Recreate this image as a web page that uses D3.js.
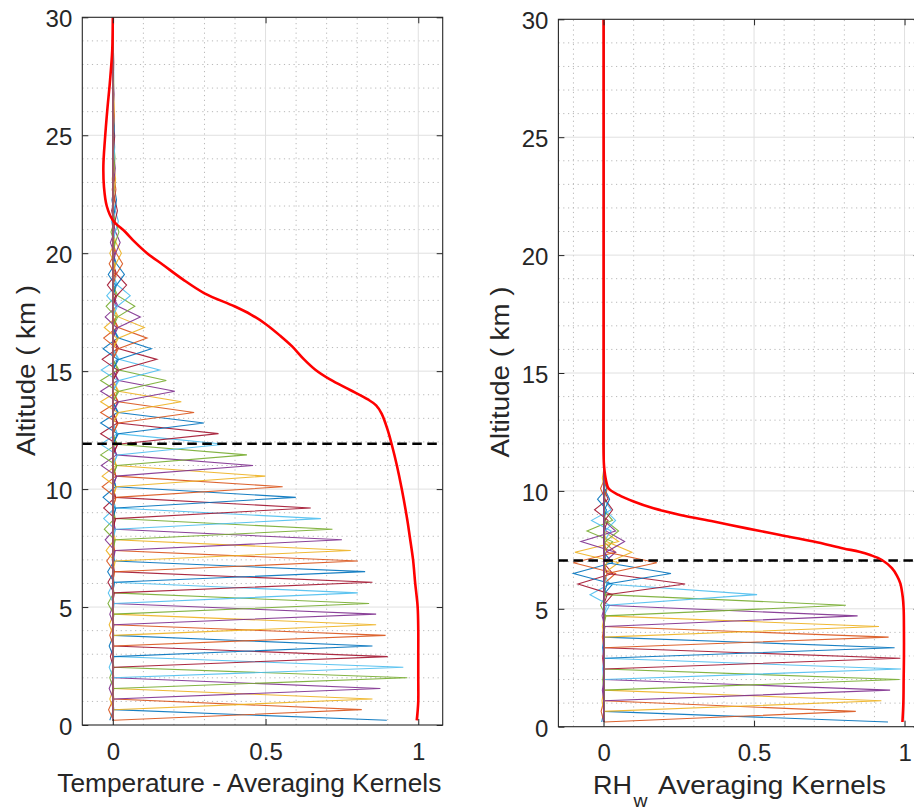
<!DOCTYPE html>
<html><head><meta charset="utf-8">
<script src="https://cdn.jsdelivr.net/npm/d3@7"></script>
<style>body{margin:0;background:#fff} svg{display:block}</style>
</head><body>
<script>
// ---------------- DATA ----------------
// retrieval altitude levels (km)
const levels = [0.2,0.65,1.1,1.55,2.0,2.45,2.9,3.35,3.8,4.25,4.7,5.15,5.6,6.05,6.5,6.95,7.4,7.85,8.3,8.75,
  9.2,9.65,10.1,10.55,11.0,11.45,11.9,12.35,12.8,13.25,13.7,14.15,14.6,15.05,15.5,15.95,16.4,16.85,17.3,17.75,
  18.2,18.65,19.1,19.55,20.0,20.45,20.9,21.35,21.8,22.25,22.7,23.15,23.6,24.05,24.5,24.95,25.4,25.85,26.3,26.75,
  27.2,27.65,28.1,28.55,29.0,29.45,29.9];

// Temperature averaging kernels: peak value at own level, value at neighbouring levels
const peakT = [0.897,0.815,0.85,0.876,0.964,0.951,0.90,0.85,0.893,0.862,
  0.862,0.839,0.802,0.85,0.826,0.802,0.779,0.75,0.719,0.681,
  0.648,0.599,0.556,0.499,0.459,0.439,0.365,0.346,0.298,0.266,
  0.224,0.203,0.175,0.153,0.144,0.126,0.112,0.103,0.09,0.072,
  0.057,0.045,0.038,0.032,0.028,0.024,0.02,0.018,0.015,0.012,
  0.01,0.009,0.008,0.007,0.006,0.006,0.005,0.005,0.004,0.004,
  0.003,0.003,0.003,0.002,0.002,0.002,0.001];
const sideT = [0.003,0.003,0.003,0.003,0.003,0.003,0.003,0.003,0.003,0.003,
  0.003,0.003,0.004,0.004,0.005,0.005,0.008,0.008,0.008,0.009,
  0.009,0.010,0.010,0.011,0.012,0.013,0.015,0.016,0.018,0.018,
  0.019,0.019,0.020,0.020,0.020,0.019,0.018,0.018,0.017,0.016,
  0.015,0.013,0.012,0.011,0.010,0.009,0.008,0.008,0.007,0.006,
  0.005,0.005,0.004,0.004,0.004,0.003,0.003,0.003,0.003,0.002,
  0.002,0.002,0.002,0.002,0.001,0.001,0.001];
// second family of lines (negative lobes near x = 0)
const dipT = [-0.010,-0.014,-0.010,-0.012,-0.010,-0.012,-0.008,-0.012,-0.010,-0.012,
  -0.010,-0.016,-0.015,-0.016,-0.017,-0.020,-0.022,-0.025,-0.028,-0.030,
  -0.030,-0.032,-0.035,-0.035,-0.038,-0.040,-0.040,-0.040,-0.040,-0.040,
  -0.040,-0.040,-0.040,-0.038,-0.035,-0.032,-0.030,-0.028,-0.025,-0.022,
  -0.020,-0.018,-0.015,-0.012,-0.010,-0.008,-0.006,-0.005,-0.004,-0.003,
  -0.002,-0.002,-0.001,0,0,0,0,0,0,0,
  0,0,0,0,0,0,0];
const dipSideT = [0.002,0.002,0.002,0.002,0.002,0.002,0.002,0.002,0.002,0.002,
  0.003,0.003,0.003,0.004,0.004,0.005,0.005,0.006,0.006,0.007,
  0.008,0.009,0.010,0.011,0.012,0.013,0.014,0.015,0.015,0.016,
  0.016,0.016,0.016,0.016,0.015,0.015,0.014,0.013,0.012,0.011,
  0.010,0.009,0.008,0.007,0.006,0.005,0.005,0.004,0.004,0.003,
  0.003,0.002,0.002,0.002,0.002,0.001,0.001,0.001,0.001,0.001,
  0.001,0.001,0.001,0.001,0.001,0.001,0.001];

// RHw averaging kernels
const peakRH = [0.945,0.838,0.923,0.952,0.983,0.988,0.986,0.967,0.947,0.915,
  0.844,0.805,0.51,0.271,0.224,0.177,0.094,0.07,0.05,0.04,
  0.03,0.02,0.012,0.006,0,0,0,0,0,0,
  0,0,0,0,0,0,0,0,0,0,
  0,0,0,0,0,0,0,0,0,0,
  0,0,0,0,0,0,0,0,0,0,
  0,0,0,0,0,0,0];
const sideRH = [0.002,0.002,0.002,0.002,0.002,0.002,0.002,0.002,0.002,0.003,
  0.004,0.005,0.010,0.012,0.012,0.012,0.010,0.008,0.006,0.005,
  0.004,0.003,0.002,0.001,0,0,0,0,0,0,
  0,0,0,0,0,0,0,0,0,0,
  0,0,0,0,0,0,0,0,0,0,
  0,0,0,0,0,0,0,0,0,0,
  0,0,0,0,0,0,0];
const dipRH = [-0.006,-0.008,-0.005,-0.004,-0.003,-0.003,-0.003,-0.003,-0.004,-0.004,
  -0.005,-0.010,-0.045,-0.085,-0.100,-0.100,-0.095,-0.075,-0.055,-0.040,
  -0.030,-0.020,-0.010,-0.004,0,0,0,0,0,0,
  0,0,0,0,0,0,0,0,0,0,
  0,0,0,0,0,0,0,0,0,0,
  0,0,0,0,0,0,0,0,0,0,
  0,0,0,0,0,0,0];
const dipSideRH = [0.001,0.001,0.001,0.001,0.001,0.001,0.001,0.001,0.001,0.002,
  0.004,0.008,0.020,0.030,0.030,0.040,0.050,0.040,0.030,0.025,
  0.015,0.010,0.005,0.002,0,0,0,0,0,0,
  0,0,0,0,0,0,0,0,0,0,
  0,0,0,0,0,0,0,0,0,0,
  0,0,0,0,0,0,0,0,0,0,
  0,0,0,0,0,0,0];

// red curves (altitude, value)
const redTz = [0.2,0.6,1.0,2.0,3.0,4.0,5.0,6.0,7.0,8.0,8.7,10.0,11.0,11.9,12.5,13.2,13.55,13.8,14.2,14.65,
  15.05,15.5,16.05,16.5,17.0,17.4,17.75,18.3,18.9,19.5,20.0,20.5,20.9,21.4,22.0,22.8,23.7,24.8,26.1,27.2,28.6,30.0];
const redTx = [0.995,0.998,1.0,1.0,1.0,1.0,0.998,0.99,0.983,0.972,0.964,0.946,0.93,0.913,0.9,0.88,0.862,0.835,0.777,0.711,
  0.664,0.626,0.587,0.548,0.5,0.452,0.398,0.3,0.228,0.165,0.112,0.07,0.041,0.0,-0.02,-0.029,-0.031,-0.026,-0.018,-0.01,-0.002,0.0];
const redRz = [0.2,1.0,2.0,3.0,4.0,5.0,5.5,6.08,6.4,6.72,7.07,7.28,7.42,7.56,7.85,8.13,8.41,8.7,8.98,9.26,
  9.55,9.83,10.1,10.4,11.0,11.6,15.0,20.0,25.0,30.0];
const redRx = [0.993,0.996,0.997,0.998,0.998,0.997,0.994,0.986,0.975,0.958,0.925,0.886,0.85,0.797,0.698,0.587,0.476,0.366,0.255,0.166,
  0.1,0.05,0.017,0.009,0.002,0.0,0.0,0.0,0.0,0.0];

const dashT = 11.92, dashRH = 7.05;     // dashed reference altitudes
const xTicks = [0, 0.5, 1];
const xTickLabels = ["0", "0.5", "1"];
const yTicks = [0, 5, 10, 15, 20, 25, 30];
const yTickLabels = ["0", "5", "10", "15", "20", "25", "30"];
const colors = ["#0072BD","#D95319","#EDB120","#7E2F8E","#77AC30","#4DBEEE","#A2142F"];

// ---------------- DRAW ----------------
const W = 914, H = 811;
const FONT = "'Liberation Sans', Arial, Helvetica, sans-serif";
const TXT = "#262626";
const svg = d3.select("body").append("svg").attr("width", W).attr("height", H)
  .style("font-family", FONT);

function kernelLines(peak, side) {
  return peak.map((p, k) => levels.map((z, j) => ({
    z, v: j === k ? p : (Math.abs(j - k) === 1 ? side[k] : 0)
  })));
}

function panel(cfg) {
  const x = d3.scaleLinear().domain(cfg.xdom).range(cfg.xr);
  const y = d3.scaleLinear().domain([0, 30]).range(cfg.yr);
  const g = svg.append("g");
  const cid = "clip" + cfg.id;
  g.append("clipPath").attr("id", cid).append("rect")
    .attr("x", cfg.xr[0]).attr("y", cfg.yr[1])
    .attr("width", cfg.xr[1] - cfg.xr[0]).attr("height", cfg.yr[0] - cfg.yr[1]);

  // grid
  const grid = g.append("g");
  const minorX = d3.range(-2, 12).map(d => d / 10)
    .filter(d => d > cfg.xdom[0] + 1e-6 && d < cfg.xdom[1] - 1e-6 && !xTicks.some(t => Math.abs(t - d) < 1e-6));
  const minorY = d3.range(1, 30).filter(d => d % 5 !== 0);
  grid.selectAll(".mx").data(minorX).join("line")
    .attr("x1", d => x(d)).attr("x2", d => x(d)).attr("y1", cfg.yr[0]).attr("y2", cfg.yr[1])
    .attr("stroke", "#b8b8b8").attr("stroke-width", 1).attr("stroke-dasharray", "1.2,3.6");
  grid.selectAll(".my").data(minorY).join("line")
    .attr("x1", cfg.xr[0]).attr("x2", cfg.xr[1]).attr("y1", d => y(d)).attr("y2", d => y(d))
    .attr("stroke", "#b8b8b8").attr("stroke-width", 1).attr("stroke-dasharray", "1.2,3.6");
  grid.selectAll(".Mx").data(xTicks).join("line")
    .attr("x1", d => x(d)).attr("x2", d => x(d)).attr("y1", cfg.yr[0]).attr("y2", cfg.yr[1])
    .attr("stroke", "#e0e0e0").attr("stroke-width", 1);
  grid.selectAll(".My").data(yTicks.slice(1, -1)).join("line")
    .attr("x1", cfg.xr[0]).attr("x2", cfg.xr[1]).attr("y1", d => y(d)).attr("y2", d => y(d))
    .attr("stroke", "#e0e0e0").attr("stroke-width", 1);

  const plot = g.append("g").attr("clip-path", `url(#${cid})`);
  const line = d3.line().x(d => x(d.v)).y(d => y(d.z));

  const main = kernelLines(cfg.peak, cfg.side);
  const dips = kernelLines(cfg.dip, cfg.dipSide);
  plot.selectAll(".dip").data(dips).join("path")
    .attr("d", line).attr("fill", "none")
    .attr("stroke", (d, i) => colors[i % 7]).attr("stroke-width", 1.1).attr("stroke-opacity", 0.9);
  plot.selectAll(".ak").data(main).join("path")
    .attr("d", line).attr("fill", "none")
    .attr("stroke", (d, i) => colors[i % 7]).attr("stroke-width", 1.1).attr("stroke-opacity", 0.9);

  // dashed line
  plot.append("line").attr("x1", cfg.xr[0]).attr("x2", cfg.xr[1])
    .attr("y1", y(cfg.dash)).attr("y2", y(cfg.dash))
    .attr("stroke", "#000").attr("stroke-width", 2.6).attr("stroke-dasharray", "9.5,5.5");

  // red curve
  const red = cfg.rz.map((z, i) => ({ z, v: cfg.rx[i] }));
  plot.append("path").datum(red)
    .attr("d", d3.line().x(d => x(d.v)).y(d => y(d.z)).curve(d3.curveCatmullRom.alpha(0.5)))
    .attr("fill", "none").attr("stroke", "#ff0000").attr("stroke-width", 2.6);

  // box
  g.append("rect").attr("x", cfg.xr[0]).attr("y", cfg.yr[1])
    .attr("width", cfg.xr[1] - cfg.xr[0]).attr("height", cfg.yr[0] - cfg.yr[1])
    .attr("fill", "none").attr("stroke", TXT).attr("stroke-width", 1.1);

  // axes
  const fmtX = d => xTickLabels[xTicks.indexOf(d)];
  const fmtY = d => yTickLabels[yTicks.indexOf(d)];
  const ax = (sel) => { sel.select(".domain").remove(); sel.selectAll("line").attr("stroke", TXT); 
    sel.selectAll("text").attr("fill", TXT).style("font-family", FONT).style("font-size", "24px"); };
  g.append("g").attr("transform", `translate(0,${cfg.yr[0]})`)
    .call(d3.axisBottom(x).tickValues(xTicks).tickFormat(fmtX).tickSize(-6).tickPadding(17.5)).call(ax);
  g.append("g").attr("transform", `translate(0,${cfg.yr[1]})`)
    .call(d3.axisTop(x).tickValues(xTicks).tickFormat("").tickSize(-6)).call(ax);
  const la = g.append("g").attr("transform", `translate(${cfg.xr[0]},0)`)
    .call(d3.axisLeft(y).tickValues(yTicks).tickFormat(fmtY).tickSize(-6).tickPadding(10)).call(ax);
  la.selectAll("text").attr("dy", "0.4em");
  g.append("g").attr("transform", `translate(${cfg.xr[1]},0)`)
    .call(d3.axisRight(y).tickValues(yTicks).tickFormat("").tickSize(-6)).call(ax);

  // y label
  g.append("text").attr("transform", `translate(${cfg.ylabX},${cfg.ylabY}) rotate(-90)`)
    .attr("text-anchor", "middle").attr("fill", TXT).style("font-size", "25px")
    .attr("textLength", 171).attr("lengthAdjust", "spacingAndGlyphs")
    .text("Altitude ( km )");
  return g;
}

panel({ id: "T", xdom: [-0.1, 1.08], xr: [82.3, 442.7], yr: [725, 17.3],
  peak: peakT, side: sideT, dip: dipT, dipSide: dipSideT, rz: redTz, rx: redTx, dash: dashT,
  ylabX: 35, ylabY: 370.5 });
panel({ id: "R", xdom: [-0.15, 1.05], xr: [558.4, 919.6], yr: [726.7, 19.3],
  peak: peakRH, side: sideRH, dip: dipRH, dipSide: dipSideRH, rz: redRz, rx: redRx, dash: dashRH,
  ylabX: 508.5, ylabY: 372 });

// x labels
svg.append("text").attr("x", 57.3).attr("y", 791.7).attr("fill", TXT).style("font-size", "25px")
  .attr("textLength", 384).attr("lengthAdjust", "spacingAndGlyphs")
  .text("Temperature - Averaging Kernels");
svg.append("text").attr("x", 593).attr("y", 794).attr("fill", TXT).style("font-size", "25px")
  .attr("textLength", 39).attr("lengthAdjust", "spacingAndGlyphs").text("RH");
svg.append("text").attr("x", 633.5).attr("y", 807).attr("fill", TXT).style("font-size", "18px")
  .attr("textLength", 14).attr("lengthAdjust", "spacingAndGlyphs").text("w");
svg.append("text").attr("x", 658).attr("y", 794).attr("fill", TXT).style("font-size", "25px")
  .attr("textLength", 228).attr("lengthAdjust", "spacingAndGlyphs").text("Averaging Kernels");
</script>
</body></html>
